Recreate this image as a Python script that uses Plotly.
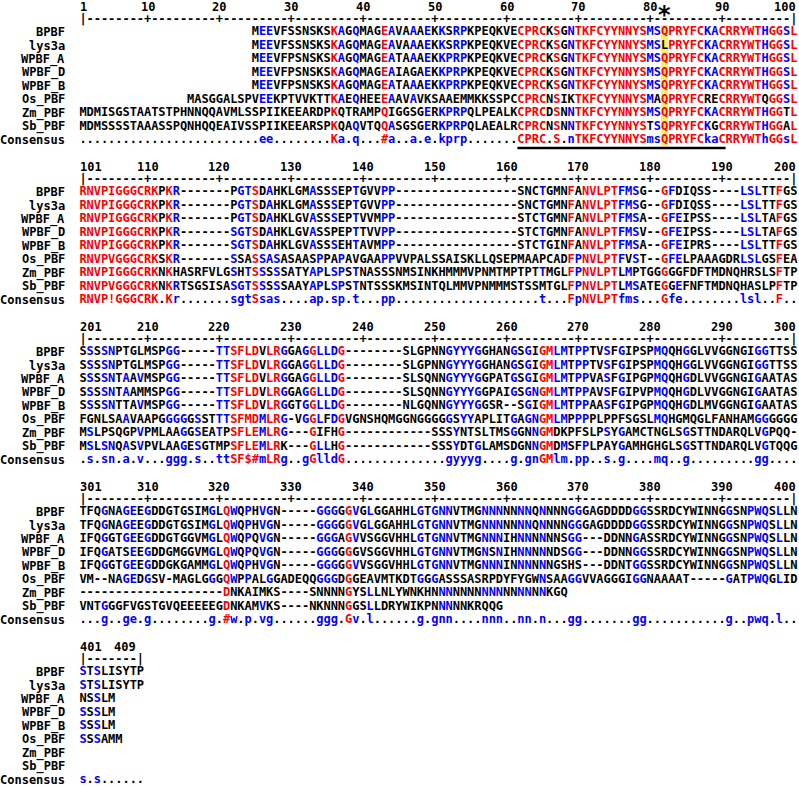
import plotly.graph_objects as go

# ---------------- data ----------------
NAMES = ["BPBF", "lys3a", "WPBF_A", "WPBF_D", "WPBF_B", "Os_PBF", "Zm_PBF", "Sb_PBF"]
CONS_NAME = "Consensus"
BLOCK_START = [1, 101, 201, 301, 401]
BLOCK_LEN = [100, 100, 100, 100, 9]

BPBF = [
    "MEEVFSSNSKSKAGQMAGEAVAAAEKKSRPKPEQKVECPRCKSGNTKFCYYNNYSMSQPRYFCKACRRYWTHGGSL",
    "RNVPIGGGCRKPKR-------PGTSDAHKLGMASSSEPTGVVPP-----------------SNCTGMNFANVLPTFMSG--GFDIQSS----LSLTTFGS",
    "SSSSNPTGLMSPGG-----TTSFLDVLRGGAGGLLDG--------SLGPNNGYYYGGHANGSGIGMLMTPPTVSFGIPSPMQQHGGLVVGGNGIGGTTSS",
    "TFQGNAGEEGDDGTGSIMGLQWQPHVGN-----GGGGGVGLGGAHHLGTGNNVTMGNNNNNNNQNNNNGGGAGDDDDGGSSRDCYWINNGGSNPWQSLLN",
    "STSLISYTP",
]
LYS3A = [
    "MEEVFSSNSKSKAGQMAGEAVAAAEKKSRPKPEQKVECPRCKSGNTKFCYYNNYSMSLPRYFCKACRRYWTHGGSL",
    "RNVPIGGGCRKPKR-------PGTSDAHKLGMASSSEPTGVVPP-----------------SNCTGMNFANVLPTFMSG--GFDIQSS----LSLTTFGS",
    "SSSSNPTGLMSPGG-----TTSFLDVLRGGAGGLLDG--------SLGPNNGYYYGGHANGSGIGMLMTPPTVSFGIPSPMQQHGGLVVGGNGIGGTTSS",
    "TFQGNAGEEGDDGTGSIMGLQWQPHVGN-----GGGGGVGLGGAHHLGTGNNVTMGNNNNNNNQNNNNGGGAGDDDDGGSSRDCYWINNGGSNPWQSLLN",
    "STSLISYTP",
]
WPBF_A = [
    "MEEVFPSNSKSKAGQMAGEATAAAEKKPRPKPEQKVECPRCKSGNTKFCYYNNYSMSQPRYFCKACRRYWTHGGSL",
    "RNVPIGGGCRKPKR-------PGTSDAHKLGVASSSEPTVVMPP-----------------STCTGMNFANVLPTFMSA--GFEIPSS----LSLTAFGS",
    "SSSSNTAAVMSPGG-----TTSFLDVLRGGAGGLLDG--------SLSQNNGYYYGGPATGSGIGMLMTPPVASFGIPGPMQQHGDLVVGGNGIGAATAS",
    "IFQGGTGEEGDDGTGGVMGLQWQPQVGN-----GGGAGVVSGGVHHLGTGNNVTMGNNNIHNNNNNNSGG---DDNNGASSRDCYWINNGGSNPWQSLLN",
    "NSSLM",
]
WPBF_D = [
    "MEEVFPSNSKSKAGQMAGEAIAGAEKKPRPKPEQKVECPRCKSGNTKFCYYNNYSMSQPRYFCKACRRYWTHGGSL",
    "RNVPIGGGCRKPKR-------SGTSDAHKLGVASSPEPTTVVPP-----------------STCTGMNFANVLPTFMSV--GFEIPSS----LSLTAFGS",
    "SSSSNTAAMMSPGG-----TTSFLDVLRGGAGGLLDG--------SLSQNNGYYYGGPAIGSGNGMLMTPPAVSFGIPVPMQQHGDLVVGGNGIGAATAS",
    "IFQGATSEEGDDGMGGVMGLQWQPQVGN-----GGGGGGVSGGVHHLGTGNNVTMGNSNIHNNNNNDSGG---DDNNGGSSRDCYWINNGGSNPWQSLLN",
    "SSSLM",
]
WPBF_B = [
    "MEEVFPSNSKSKAGQMAGEATAAAEKKPRPKPEQKVECPRCKSGNTKFCYYNNYSMSQPRYFCKACRRYWTHGGSL",
    "RNVPIGGGCRKPKR-------SGTSDAHKLGVASSSEHTAVMPP-----------------STCTGINFANVLPTFMSA--GFEIPRS----LSLTTFGS",
    "SSSSNTTAVMSPGG-----TTSFLDVLRGGTGGLLDG--------NLGQNNGYYYGGSR--SGIGMLMTPPAASFGIPGPMQQHGDLMVGGNGIGAATAS",
    "IFQGGTGEEGDDGKGAMMGLQWQPHVGN-----GGGGGVVSGGVHHLGTGNNVTMGNNNINNNNNNGSHS---DDNTGGSSRDCYWINNGGSNPWQSLLN",
    "SSSLM",
]
OS_PBF = [
    "MASGGALSPVEEKPTVVKTTKAEQHEEEAAVAVKSAAEMMKKSSPCCPRCNSIKTKFCYYNNYSMAQPRYFCRECRRYWTQGGSL",
    "RNVPVGGGCRKSKR-------SSASSASASAASPPAPAVGAAPPVVPALSSAISKLLQSEPMAAPCADFPNVLPTFVST--GFELPAAAGDRLSLGSFEA",
    "FGNLSAAVAAPGGGGGSSTTTSFMDMLRG-VGGLFDGVGNSHQMGGNGGGGGSYYAPLITGAGNGMLMPPPPLPPFSGSLMQHGMQGLFANHAMGGGGGG",
    "VM--NAGEDGSV-MAGLGGGQWPPALGGADEQQGGGDGGEAVMTKDTGGGASSSASRPDYFYGWNSAAGGVVAGGGIGGNAAAAT-----GATPWQGLID",
    "SSSAMM",
]
ZM_PBF = [
    "MDMISGSTAATSTPHNNQQAVMLSSPIIKEEARDPKQTRAMPQIGGSGERKPRPQLPEALKCPRCDSNNTKFCYYNNYSMSQPRYFCKACRRYWTHGGTL",
    "RNVPIGGGCRKNKHASRFVLGSHTSSSSSATYAPLSPSTNASSSNMSINKHMMMVPNMTMPTPTTMGLFPNVLPTLMPTGGGGGFDFTMDNQHRSLSFTP",
    "MSLPSQGPVPMLAAGGSEATPSFLEMLRG---GIFHG------------SSSYNTSLTMSGGNNGMDKPFSLPSYGAMCTNGLSGSTTNDARQLVGPQQ-",
    "--------------------DNKAIMKS----SNNNNGYSLLNLYWNKHNNNNNNNNNNNNNNNNKGQ",
    "",
]
SB_PBF = [
    "MDMSSSSTAAASSPQNHQQEAIVSSPIIKEEARSPKQAQVTQQASGSGERKPRPQLAEALRCPRCNSNNTKFCYYNNYSTSQPRYFCKGCRRYWTHGGAL",
    "RNVPVGGGCRKNKRTSGSISASGTSSSSSAAYAPLSPSTNTSSSKMSINTQLMMVPNMMMSTSSMTGLFPNVLPTLMSATEGGEFNFTMDNQHASLPFTP",
    "MSLSNQASVPVLAAGESGTMPSFLEMLRK---GLLHG------------SSSYDTGLAMSDGNNGMDMSFPLPAYGAMHGHGLSGSTTNDARQLVGTQQG",
    "VNTGGGFVGSTGVQEEEEEGDNKAMVKS----NKNNNGGSLLDRYWIKPNNNNNKRQQG",
    "",
]
CONSENSUS = [
    ".........................ee........Ka.q...#a..a.e.kprp.......CPRC.S.nTKFCYYNNYSmsQPRYFCkaCRRYWThGGsL",
    "RNVP!GGGCRK.Kr.......sgtSsas....ap.sp.t...pp....................t...FpNVLPTfms...Gfe........lsl..F..",
    ".s.sn.a.v...ggg.s..ttSF$#mLRg..gGlldG..............gyyyg....g.gnGMlm.pp..s.g....mq..g.........gg....",
    "...g..ge.g........g.#w.p.vg......ggg.Gv.l......g.gnn....nnn..nn.n...gg.......gg...........g..pwq.l..",
    "s.s......",
]
SEQS = [BPBF, LYS3A, WPBF_A, WPBF_D, WPBF_B, OS_PBF, ZM_PBF, SB_PBF]
MARK_COL = 82               # asterisk / highlighted column (block 1)
UNDERLINE_COLS = (62, 90)   # underlined consensus motif (block 1)

# ---------------- geometry / style ----------------
W, H = 799, 786
X0, CW = 83.0, 7.18          # pixel centre of column 1, column width
Y_NUM, Y_RULER, Y_ROW0, DY, BLOCK_H = 6.5, 19.5, 32.3, 13.5, 160.0
LABEL_RIGHT = 65.5
FONT = "DejaVu Sans Mono"
FS = 12
RED, BLUE, BLACK = "#ff0000", "#0000ff", "#000000"


def px_to_col(px):
    return 1 + (px - X0) / CW


def padded(s, b):
    n = BLOCK_LEN[b]
    return s.rjust(n) if b == 0 else s.ljust(n)


def matches(res, cons):
    if cons in ". -":
        return False
    if cons == "!":
        return res in "IV"
    if cons == "$":
        return res in "LM"
    if cons == "%":
        return res in "FY"
    if cons == "#":
        return res in "NDQEBZ"
    return res.upper() == cons.upper()


def cons_color(cons):
    if cons == ".":
        return BLACK
    if cons in "!$%#" or cons.isupper():
        return RED
    return BLUE


pts = {BLACK: ([], [], []), RED: ([], [], []), BLUE: ([], [], [])}


def add(color, x, y, t):
    pts[color][0].append(x)
    pts[color][1].append(y)
    pts[color][2].append(t)


annotations = []
for b in range(5):
    yb = b * BLOCK_H
    L = BLOCK_LEN[b]
    cons = padded(CONSENSUS[b], b)
    for i, seq in enumerate(SEQS):
        s = padded(seq[b], b)
        y = Y_ROW0 + i * DY + yb
        for c, ch in enumerate(s, start=1):
            if ch == " ":
                continue
            col = cons_color(cons[c - 1]) if matches(ch, cons[c - 1]) else BLACK
            add(col, c, y, ch)
    y = Y_ROW0 + len(SEQS) * DY + yb
    for c, ch in enumerate(cons, start=1):
        if ch != " ":
            add(cons_color(ch), c, y, ch)
    for c in range(1, L + 1):
        ch = "|" if c in (1, L) else ("+" if c % 10 == 0 else "-")
        add(BLACK, c, Y_RULER + yb, ch)
    st = BLOCK_START[b]
    annotations.append(dict(x=0.5, y=Y_NUM + yb, text=str(st), xanchor="left"))
    for c in range(10, L, 10):
        annotations.append(dict(x=c, y=Y_NUM + yb, text=str(st - 1 + c), xanchor="center"))
    end_col = L + 0.5 if L == 100 else L - 0.5
    annotations.append(dict(x=end_col, y=Y_NUM + yb, text=str(st - 1 + L), xanchor="right"))
    for i, nm in enumerate(NAMES + [CONS_NAME]):
        annotations.append(dict(x=px_to_col(LABEL_RIGHT), y=Y_ROW0 + i * DY + yb,
                                text=nm, xanchor="right"))

for a in annotations:
    a.update(xref="x", yref="y", showarrow=False, yanchor="middle", borderpad=0,
             font=dict(family=FONT, size=FS, color=BLACK, weight="bold"))

annotations.append(dict(x=MARK_COL, y=15, xref="x", yref="y", text="*", showarrow=False,
                        xanchor="center", yanchor="middle",
                        font=dict(family="DejaVu Sans", size=24, color=BLACK, weight="bold")))

fig = go.Figure()
for color, (xs, ys, ts) in pts.items():
    fig.add_trace(go.Scatter(x=xs, y=ys, text=ts, mode="text", textposition="middle center",
                             textfont=dict(family=FONT, size=FS, color=color, weight="bold"),
                             hoverinfo="skip", showlegend=False))

shapes = [
    dict(type="rect", xref="x", yref="y", x0=MARK_COL - 0.5, x1=MARK_COL + 0.5,
         y0=25, y1=146, fillcolor="rgb(255,238,110)", line=dict(width=0), layer="below"),
    dict(type="line", xref="x", yref="y", x0=UNDERLINE_COLS[0] - 0.5, x1=UNDERLINE_COLS[1] + 0.5,
         y0=148, y1=148, line=dict(color=BLACK, width=2.5)),
]

fig.update_layout(
    width=W, height=H, autosize=False,
    margin=dict(l=0, r=0, t=0, b=0),
    paper_bgcolor="white", plot_bgcolor="white",
    xaxis=dict(range=[px_to_col(0), px_to_col(W)], visible=False, fixedrange=True),
    yaxis=dict(range=[H, 0], visible=False, fixedrange=True),
    annotations=annotations, shapes=shapes, showlegend=False,
)
fig.write_html("out.html", config={"displayModeBar": False},
               post_script="document.body.style.margin='0px';document.body.style.padding='0px';"
                           "document.body.style.overflow='hidden';")
